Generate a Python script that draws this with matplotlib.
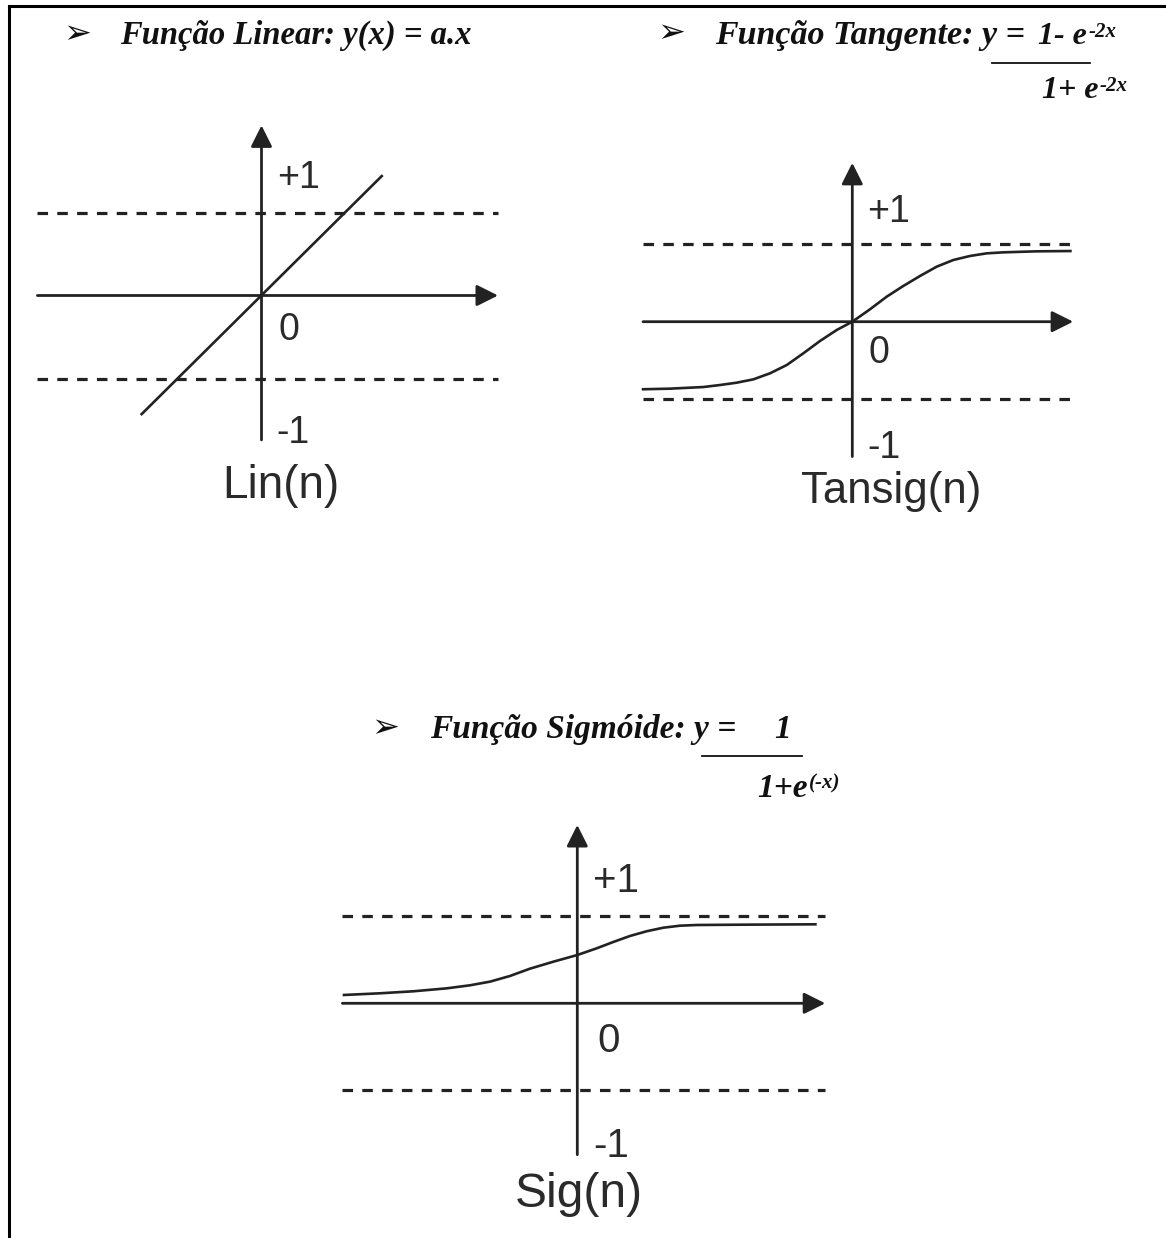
import matplotlib
matplotlib.use("Agg")
import matplotlib.pyplot as plt
from matplotlib.lines import Line2D

W, H = 1166, 1238

# ---------------- data (function units; dashed guides at +1 / -1) ----------------
guide_levels = [1.0, -1.0]
axis_x_range = [-2.70, 2.85]
axis_y_range = [-1.74, 2.05]

lin_x = [-1.455, 1.46]
lin_y = [-1.44, 1.45]

tansig_x = [-2.717, -2.352, -1.923, -1.707, -1.492, -1.277, -1.062, -0.846, -0.632,
            -0.417, -0.201, 0.0, 0.228, 0.444, 0.658, 0.874, 1.089, 1.303, 1.519,
            1.734, 1.948, 2.379, 2.831]
tansig_y = [-0.872, -0.864, -0.843, -0.817, -0.787, -0.744, -0.666, -0.559, -0.408,
            -0.249, -0.107, 0.0, 0.160, 0.323, 0.461, 0.590, 0.710, 0.796, 0.848,
            0.882, 0.895, 0.908, 0.912]

sig_x = [-2.697, -2.268, -1.885, -1.501, -1.233, -1.003, -0.774, -0.544, -0.276, 0.0,
         0.223, 0.414, 0.606, 0.797, 0.989, 1.180, 1.372, 1.947, 2.752]
sig_y = [0.095, 0.115, 0.138, 0.172, 0.207, 0.249, 0.314, 0.398, 0.478, 0.555,
         0.632, 0.705, 0.774, 0.828, 0.869, 0.892, 0.900, 0.904, 0.908]

tick_labels = ["+1", "0", "-1"]
panel_names = ["Lin(n)", "Tansig(n)", "Sig(n)"]

INK = "#222222"
TXT = "#2a2a2a"
SANS = "Liberation Sans"
SERIF = "Liberation Serif"

fig = plt.figure(figsize=(W / 100, H / 100), dpi=100)
fig.patch.set_facecolor("white")


def fx(x):
    return x / W


def fy(y):
    return 1 - y / H


def make_panel(ox, oy, unit):
    ax = fig.add_axes([0, 0, 1, 1])
    ax.set_xlim((0 - ox) / unit, (W - ox) / unit)
    ax.set_ylim((oy - H) / unit, oy / unit)
    ax.axis("off")
    ax.patch.set_alpha(0)
    return ax


def draw_frame(ax, name, lab_pos, name_pos, lab_size, name_size):
    x0, x1 = axis_x_range
    y0, y1 = axis_y_range
    for lv in guide_levels:
        ax.plot([x0, x1], [lv, lv], color=INK, lw=2.3,
                linestyle=(0, (3.3, 2.9)), dash_capstyle="butt")
    arrow = dict(arrowstyle="-|>,head_length=0.5,head_width=0.25", lw=2.0,
                 color=INK, shrinkA=0, shrinkB=0, mutation_scale=26)
    ax.annotate("", xy=(x1, 0), xytext=(x0, 0), arrowprops=arrow)
    ax.annotate("", xy=(0, y1), xytext=(0, y0), arrowprops=arrow)
    for lab, (lx, ly) in zip(tick_labels, lab_pos):
        ax.text(lx, ly, lab, fontfamily=SANS, fontsize=lab_size, color=TXT,
                ha="left", va="baseline")
    ax.text(name_pos[0], name_pos[1], name, fontfamily=SANS, fontsize=name_size,
            color=TXT, ha="center", va="baseline")


curve_kw = dict(color=INK, lw=1.9, solid_joinstyle="round", solid_capstyle="butt")

# ---------------- panel 1: linear ----------------
ax1 = make_panel(261.5, 295.5, 83.0)
draw_frame(ax1, panel_names[0], [(0.19, 1.30), (0.20, -0.54), (0.18, -1.78)],
           (0.23, -2.44), 27, 33)
ax1.plot(lin_x, lin_y, **curve_kw)

# ---------------- panel 2: tansig ----------------
ax2 = make_panel(852.3, 321.7, 77.5)
draw_frame(ax2, panel_names[1], [(0.19, 1.29), (0.21, -0.53), (0.19, -1.76)],
           (0.50, -2.34), 27, 31.5)
ax2.plot(tansig_x, tansig_y, **curve_kw)

# ---------------- panel 3: sigmoid ----------------
ax3 = make_panel(577.3, 1003.3, 87.0)
draw_frame(ax3, panel_names[2], [(0.18, 1.28), (0.23, -0.56), (0.18, -1.77)],
           (0.02, -2.34), 29, 34.5)
ax3.plot(sig_x, sig_y, **curve_kw)

# ---------------- titles ----------------
serif_kw = dict(fontfamily=SERIF, fontweight="bold", fontstyle="italic",
                color="#111111")
title_kw = dict(va="baseline", ha="left", **serif_kw)
bullet_kw = dict(fontfamily="DejaVu Sans", fontsize=24, color="#111111",
                 va="center", ha="center")


def superscript(base, s, size):
    ax1.annotate(s, xy=(1.0, 1.0), xycoords=base, xytext=(1, 0),
                 textcoords="offset points", annotation_clip=False,
                 fontsize=size, va="top", ha="left", **serif_kw)


fig.text(fx(77), fy(34), "\u27a2", **bullet_kw)
fig.text(fx(120), fy(44), "Função Linear: y(x) = a.x", fontsize=23.5, **title_kw)

fig.text(fx(671), fy(33), "\u27a2", **bullet_kw)
fig.text(fx(715), fy(44), "Função Tangente: y =", fontsize=24.5, **title_kw)
t2 = fig.text(fx(1038), fy(44), "1- e", fontsize=23, **title_kw)
superscript(t2, "-2x", 15)
fig.add_artist(Line2D([fx(992), fx(1090)], [fy(63), fy(63)], color="#111111", lw=1.3))
t2d = fig.text(fx(1042), fy(98), "1+ e", fontsize=23, **title_kw)
superscript(t2d, "-2x", 15)

fig.text(fx(385), fy(728), "\u27a2", **bullet_kw)
fig.text(fx(430), fy(738), "Função Sigmóide: y =", fontsize=24, **title_kw)
fig.text(fx(774), fy(738), "1", fontsize=24, **title_kw)
fig.add_artist(Line2D([fx(702), fx(802)], [fy(756), fy(756)], color="#111111", lw=1.3))
t3d = fig.text(fx(757), fy(797), "1+e", fontsize=24, **title_kw)
superscript(t3d, "(-x)", 15)

# ---------------- page border (top and left) ----------------
fig.add_artist(Line2D([fx(9), fx(W)], [fy(6), fy(6)], color="black", lw=2.2))
fig.add_artist(Line2D([fx(9), fx(9)], [fy(6), fy(H)], color="black", lw=2.2))

fig.savefig("out.png", dpi=100, facecolor="white")
